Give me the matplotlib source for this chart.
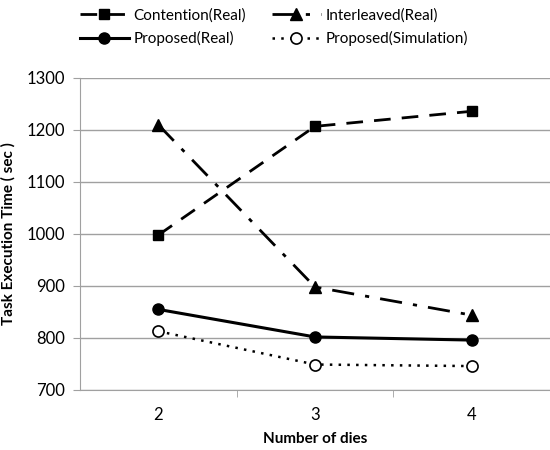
import matplotlib.pyplot as plt

plt.rcParams['font.family'] = ['Lato', 'DejaVu Sans']

dies = [2, 3, 4]
contention = [998, 1207, 1236]
interleaved = [1210, 898, 844]
proposed_real = [855, 802, 796]
proposed_sim = [813, 749, 746]

fig = plt.figure(figsize=(5.5, 4.5), dpi=100)
ax = fig.add_axes([80/550, 60/450, 470/550, 312/450])

h1, = ax.plot(dies, contention, color='black', lw=2, dashes=(6, 4), marker='s', ms=7,
              label='Contention(Real)')
h2, = ax.plot(dies, interleaved, color='black', lw=2, dashes=(8, 4, 1.5, 4), marker='^', ms=8,
              label='Interleaved(Real)')
h3, = ax.plot(dies, proposed_real, color='black', lw=2.2, marker='o', ms=8,
              label='Proposed(Real)')
h4, = ax.plot(dies, proposed_sim, color='black', lw=1.8, linestyle=(0, (1, 2.5)), marker='o', ms=8,
              mfc='white', mec='black', mew=1.2, label='Proposed(Simulation)')

ax.set_xlim(1.5, 4.5)
ax.set_ylim(700, 1300)
ax.set_yticks(range(700, 1301, 100))
ax.set_xticks(dies)
ax.set_xticks([2.5, 3.5], minor=True)
ax.tick_params(axis='x', which='major', length=0, labelsize=12, pad=12)
ax.tick_params(axis='x', which='minor', length=5, color='#a0a0a0', direction='out')
ax.tick_params(axis='y', length=5, color='#a0a0a0', labelsize=12, pad=6)
ax.grid(axis='y', color='#a0a0a0', lw=1)
ax.set_axisbelow(True)
for s in ['top', 'right']:
    ax.spines[s].set_visible(False)
for s in ['left', 'bottom']:
    ax.spines[s].set_color('#a0a0a0')

ax.set_xlabel('Number of dies', fontsize=11, fontweight='bold', labelpad=7)
ax.set_ylabel('Task Execution Time ( sec )', fontsize=11, fontweight='bold', labelpad=8)

fig.legend([h1, h3, h2, h4], [h.get_label() for h in [h1, h3, h2, h4]],
           loc='upper left', bbox_to_anchor=(66/550, 1.012), ncol=2, frameon=False,
           fontsize=11, handlelength=3.2, columnspacing=1.7, handletextpad=0.3,
           labelspacing=0.55)

fig.savefig('out.png')
